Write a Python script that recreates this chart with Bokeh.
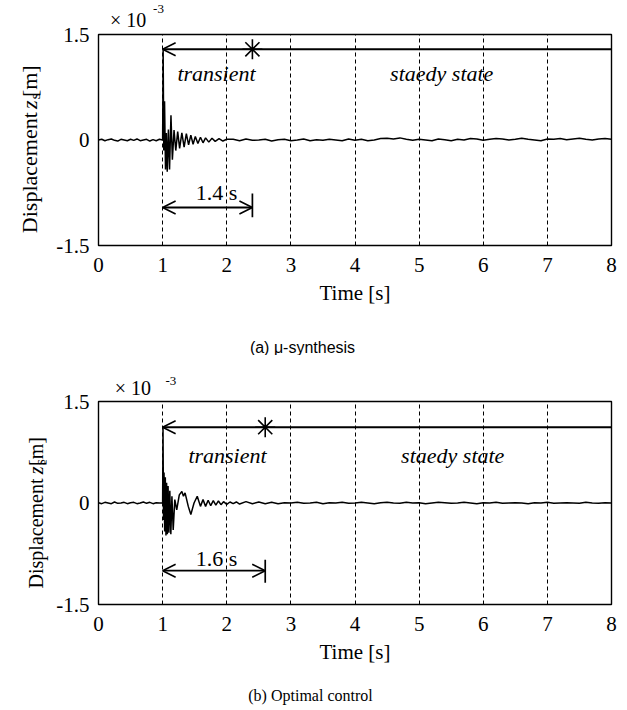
import math
from bokeh.plotting import figure
from bokeh.models import Range1d, FixedTicker, Label, Arrow, OpenHead, ColumnDataSource
from bokeh.layouts import column, row
from bokeh.core.properties import value
from bokeh.embed import file_html
from bokeh.resources import INLINE

# ---------------- data (displacement in units of 1e-3 m) ----------------
time_ticks = [0, 1, 2, 3, 4, 5, 6, 7, 8]
disp_ticks = [-1.5, 0, 1.5]
disp_tick_labels = {-1.5: "-1.5", 0: "0", 1.5: "1.5"}

pre_t = [0.0, 0.05, 0.1, 0.15, 0.2, 0.25, 0.3, 0.35, 0.4, 0.45,
         0.5, 0.55, 0.6, 0.65, 0.7, 0.75, 0.8, 0.85, 0.9, 0.95]
pre_a = [0.0, 0.01, -0.01, 0.005, 0.015, -0.005, -0.015, 0.01, 0.0, -0.01,
         0.01, -0.005, 0.015, -0.01, 0.0, 0.01, -0.015, 0.005, -0.01, 0.01]
pre_b = [0.005, -0.01, 0.01, 0.0, -0.01, 0.015, -0.005, 0.0, 0.01, -0.01,
         0.005, 0.01, -0.01, 0.0, 0.015, -0.005, 0.01, -0.01, 0.005, 0.0]

# mu-synthesis transient
tr_a_t = [1.0, 1.008, 1.018, 1.03, 1.045, 1.058, 1.072, 1.09, 1.108, 1.13,
          1.152, 1.178, 1.205, 1.235, 1.265, 1.3, 1.335, 1.37, 1.405, 1.44,
          1.475, 1.51, 1.55, 1.59, 1.63, 1.67, 1.72, 1.77, 1.82, 1.88, 1.94, 2.0]
tr_a_z = [0.0, 1.29, -0.15, 0.55, -0.42, 0.10, -0.45, 0.15, -0.42, 0.35,
          -0.28, 0.14, -0.15, 0.12, -0.12, 0.10, -0.10, 0.09, -0.07, 0.07,
          -0.06, 0.05, -0.05, 0.04, -0.04, 0.03, -0.03, 0.025, -0.02, 0.02, -0.015, 0.01]

# optimal control transient
tr_b_t = [1.0, 1.006, 1.014, 1.022, 1.032, 1.042, 1.052, 1.062, 1.073, 1.085,
          1.098, 1.112, 1.128, 1.145, 1.165, 1.19, 1.22, 1.26, 1.3, 1.325,
          1.35, 1.4, 1.44, 1.49, 1.54, 1.59, 1.63, 1.67, 1.71, 1.75,
          1.79, 1.83, 1.87, 1.91, 1.95, 2.0, 2.05, 2.1]
tr_b_z = [0.0, 1.12, -0.25, 0.45, -0.42, 0.38, -0.48, 0.30, -0.46, 0.25,
          -0.44, 0.18, -0.46, 0.10, -0.40, 0.05, -0.10, 0.12, 0.17, 0.10,
          0.15, -0.05, -0.17, 0.0, 0.10, -0.05, 0.05, -0.05, 0.04, -0.04,
          0.035, -0.03, 0.03, -0.025, 0.02, -0.02, 0.015, -0.01]

steady_a_t = [2.1, 2.2, 2.3, 2.4, 2.5, 2.6, 2.7, 2.8, 2.9, 3.0,
              3.1, 3.2, 3.3, 3.4, 3.5, 3.6, 3.7, 3.8, 3.9, 4.0,
              4.1, 4.2, 4.3, 4.4, 4.5, 4.6, 4.7, 4.8, 4.9, 5.0,
              5.1, 5.2, 5.3, 5.4, 5.5, 5.6, 5.7, 5.8, 5.9, 6.0,
              6.1, 6.2, 6.3, 6.4, 6.5, 6.6, 6.7, 6.8, 6.9, 7.0,
              7.1, 7.2, 7.3, 7.4, 7.5, 7.6, 7.7, 7.8, 7.9, 8.0]
steady_a_z = [0.01, -0.01, 0.015, -0.005, 0.0, 0.01, -0.015, 0.005, 0.01, -0.01,
              0.0, 0.015, -0.01, 0.005, -0.005, 0.01, 0.0, -0.01, 0.015, -0.005,
              0.01, -0.01, 0.0, 0.02, 0.025, 0.015, 0.03, 0.01, -0.005, 0.01,
              0.0, -0.01, 0.015, 0.005, -0.01, 0.01, 0.0, 0.02, 0.015, -0.005,
              0.01, 0.02, 0.015, 0.0, 0.01, 0.025, 0.01, 0.0, -0.01, 0.015,
              0.01, 0.02, 0.005, 0.015, 0.025, 0.01, 0.0, 0.015, 0.02, 0.01]
steady_b_t = [2.15, 2.2, 2.3, 2.4, 2.5, 2.6, 2.7, 2.8, 2.9, 3.0,
              3.1, 3.2, 3.3, 3.4, 3.5, 3.6, 3.7, 3.8, 3.9, 4.0,
              4.1, 4.2, 4.3, 4.4, 4.5, 4.6, 4.7, 4.8, 4.9, 5.0,
              5.1, 5.2, 5.3, 5.4, 5.5, 5.6, 5.7, 5.8, 5.9, 6.0,
              6.1, 6.2, 6.3, 6.4, 6.5, 6.6, 6.7, 6.8, 6.9, 7.0,
              7.1, 7.2, 7.3, 7.4, 7.5, 7.6, 7.7, 7.8, 7.9, 8.0]
steady_b_z = [0.015, -0.015, 0.02, -0.01, 0.015, -0.01, 0.01, -0.01, 0.005, 0.0,
              0.01, -0.005, 0.0, 0.01, -0.01, 0.005, 0.0, 0.01, -0.005, 0.0,
              0.01, 0.0, -0.01, 0.005, 0.01, 0.0, -0.005, 0.01, 0.0, 0.005,
              -0.01, 0.0, 0.01, 0.005, -0.005, 0.0, 0.01, 0.0, -0.01, 0.005,
              0.0, 0.01, -0.005, 0.0, 0.005, 0.0, -0.01, 0.005, 0.0, 0.01,
              -0.005, 0.0, 0.005, 0.0, -0.005, 0.01, 0.0, -0.005, 0.005, 0.0]

# annotations
disturb_time = 1.0
peak_a, settle_a = 1.29, 1.4
peak_b, settle_b = 1.12, 1.6

SERIF = "Liberation Serif"
SANS = "Liberation Sans"
FIG_W = 627
LAB_W = 50             # strip with the rotated y label: x 0..50
AX_W = 41              # strip with the y tick labels: x 50..91
MAIN_X0 = LAB_W + AX_W  # 91
FRAME_L, FRAME_R = 98, 611


def text_fig(x0, x1, y0, y1):
    """A blank figure whose frame covers absolute page pixels [x0,x1] x [y0,y1]."""
    f = figure(width=x1 - x0, height=y1 - y0, output_backend="svg", toolbar_location=None,
               x_range=Range1d(x0, x1), y_range=Range1d(-y1, -y0),
               x_axis_location=None, y_axis_location=None, min_border=0)
    f.grid.visible = False
    f.outline_line_color = None
    f.background_fill_color = "white"
    f.border_fill_color = "white"
    return f


def put(f, text, px, py, size, font=SERIF, style="normal", align="center",
        baseline="middle", angle=0.0):
    f.text(x=[px], y=[-py], text=[text], text_font=value(font), text_font_size=size,
           text_font_style=style, text_align=align, text_baseline=baseline,
           text_color="black", angle=angle)


def axis_fig(y_range, height, frame_top, bottom_border):
    """Strip that carries the y axis tick labels (frame is 1 px wide, invisible)."""
    f = figure(width=AX_W, height=height, output_backend="svg", toolbar_location=None,
               x_range=Range1d(0, 1), y_range=y_range,
               x_axis_location=None, y_axis_location="left",
               min_border_left=AX_W - 1, min_border_right=0,
               min_border_top=frame_top, min_border_bottom=bottom_border)
    f.grid.visible = False
    f.outline_line_color = None
    f.background_fill_color = "white"
    f.border_fill_color = "white"
    ax = f.yaxis[0]
    ax.ticker = FixedTicker(ticks=disp_ticks)
    ax.major_label_overrides = disp_tick_labels
    ax.axis_line_color = None
    ax.major_tick_line_color = None
    ax.minor_tick_line_color = None
    ax.major_tick_out = 0
    ax.major_tick_in = 0
    ax.major_label_standoff = 1
    ax.major_label_text_font = SERIF
    ax.major_label_text_font_size = "21px"
    ax.major_label_text_color = "black"
    return f


def main_fig(t, z, peak, settle, y_range, top_border, frame_h, bottom_border, frame_top_abs, pos):
    height = top_border + frame_h + bottom_border
    p = figure(width=FIG_W - MAIN_X0, height=height, output_backend="svg", toolbar_location=None,
               x_range=Range1d(0, 8), y_range=y_range, y_axis_location=None,
               min_border_left=FRAME_L - MAIN_X0, min_border_right=FIG_W - FRAME_R,
               min_border_top=top_border, min_border_bottom=bottom_border)
    p.background_fill_color = "white"
    p.border_fill_color = "white"
    p.outline_line_color = "black"
    p.outline_line_width = 1.4

    def X(px):
        return (px - FRAME_L) * 8.0 / (FRAME_R - FRAME_L)

    def Y(py):
        return 1.5 - (py - frame_top_abs) * 3.0 / frame_h

    ax = p.xaxis[0]
    ax.ticker = FixedTicker(ticks=time_ticks)
    ax.axis_line_color = None
    ax.major_tick_line_color = None
    ax.minor_tick_line_color = None
    ax.major_tick_out = 0
    ax.major_tick_in = 0
    ax.major_label_text_font = SERIF
    ax.major_label_text_font_size = "21px"
    ax.major_label_text_color = "black"
    ax.major_label_standoff = 12
    ax.axis_label = "Time [s]"
    ax.axis_label_text_font = SERIF
    ax.axis_label_text_font_style = "normal"
    ax.axis_label_text_font_size = "21px"
    ax.axis_label_text_color = "black"
    ax.axis_label_standoff = 6

    p.xgrid.ticker = FixedTicker(ticks=time_ticks[1:-1])
    p.xgrid.grid_line_color = "black"
    p.xgrid.grid_line_dash = "4 3"
    p.xgrid.grid_line_width = 1
    p.ygrid.grid_line_color = None

    src = ColumnDataSource(data=dict(t=t, z=z))
    p.line("t", "z", source=src, line_color="black", line_width=1.5)

    head = dict(size=13, line_width=1.6, line_color="black")
    p.add_layout(Arrow(end=OpenHead(**head), start=None,
                       x_start=8, y_start=peak, x_end=disturb_time, y_end=peak,
                       line_color="black", line_width=1.9))
    p.scatter([disturb_time + settle], [peak], marker="asterisk", size=20,
              line_color="black", line_width=1.6)

    sy = pos["span_y"]
    p.add_layout(Arrow(start=OpenHead(**head), end=OpenHead(**head),
                       x_start=disturb_time, y_start=sy, x_end=disturb_time + settle, y_end=sy,
                       line_color="black", line_width=1.9))
    p.segment([disturb_time + settle], [pos["bar"][0]], [disturb_time + settle], [pos["bar"][1]],
              line_color="black", line_width=1.7)

    def lab(text, px, py, size, style="normal"):
        p.add_layout(Label(x=X(px), y=Y(py), text=text, text_font=SERIF,
                           text_font_size=size, text_font_style=style,
                           text_align="center", text_baseline="middle",
                           text_color="black"))

    lab("transient", *pos["transient"], "22px", style="italic")
    lab("staedy  state", *pos["steady"], "22px", style="italic")
    lab(pos["span_text"], *pos["span_lab"], "22px")
    return p


def y_label(f, bx, ends, size, sub_size):
    # rotated pieces, anchored at their upper (end) side
    a = math.pi / 2
    put(f, "Displacement", bx, ends[0], size, align="right", angle=a)
    put(f, "z", bx, ends[1], size, style="italic", align="right", angle=a)
    put(f, "s", bx + 5, ends[2], sub_size, align="right", angle=a)
    put(f, "[m]", bx, ends[3], size, align="right", angle=a)


def panel(t, z, peak, settle, g, pos):
    y_range = Range1d(-1.5, 1.5)
    row_end = g["frame_top"] + g["frame_h"] + g["bottom"]
    # multiplier strip (right of the y tick labels, above the frame)
    top = text_fig(MAIN_X0, FIG_W, g["y0"], g["strip_end"])
    put(top, "\u00d7 10", pos["mult"][0], pos["mult"][1], "20px", align="left")
    put(top, "-3", pos["exp"][0], pos["exp"][1], "13px", align="left")
    m = main_fig(t, z, peak, settle, y_range, g["frame_top"] - g["strip_end"], g["frame_h"],
                 g["bottom"], g["frame_top"], pos)
    axf = axis_fig(y_range, row_end - g["y0"], g["frame_top"] - g["y0"], g["bottom"])
    left = text_fig(0, LAB_W, g["y0"], row_end)
    y_label(left, pos["ylab_x"], pos["ylab"], pos["ylab_size"], pos["ylab_sub"])
    cap = text_fig(0, FIG_W, row_end, g["y1"])
    put(cap, pos["caption"], pos["cap_xy"][0], pos["cap_xy"][1], "16px", font=pos["cap_font"])
    return [row(left, axf, column(top, m, spacing=0), spacing=0), cap]


geo_a = dict(y0=0, strip_end=32, frame_top=34, frame_h=211, bottom=70, y1=355)
geo_b = dict(y0=355, strip_end=399, frame_top=401, frame_h=203, bottom=70, y1=710)

pos_a = dict(span_y=-0.96, bar=(-0.76, -1.10), transient=(216, 73), steady=(444, 73),
             span_text="1.4 s", span_lab=(216, 192), mult=(103, 19.5), exp=(148, 8.5),
             ylab_x=29, ylab=(116, 98.5, 88, 46), ylab_size="22px", ylab_sub="15px",
             caption="(a) \u03bc-synthesis", cap_xy=(302, 347), cap_font=SANS)
pos_b = dict(span_y=-1.0, bar=(-0.84, -1.18), transient=(227, 455), steady=(455, 455),
             span_text="1.6 s", span_lab=(216, 558), mult=(108, 387.5), exp=(161, 380),
             ylab_x=35, ylab=(476, 457, 446, 411), ylab_size="20px", ylab_sub="14px",
             caption="(b) Optimal control", cap_xy=(310, 695), cap_font=SERIF)

items = panel(pre_t + tr_a_t + steady_a_t, pre_a + tr_a_z + steady_a_z,
              peak_a, settle_a, geo_a, pos_a)
items += panel(pre_t + tr_b_t + steady_b_t, pre_b + tr_b_z + steady_b_z,
               peak_b, settle_b, geo_b, pos_b)

layout = column(*items, spacing=0)
open("out.html", "w").write(file_html(layout, INLINE))
